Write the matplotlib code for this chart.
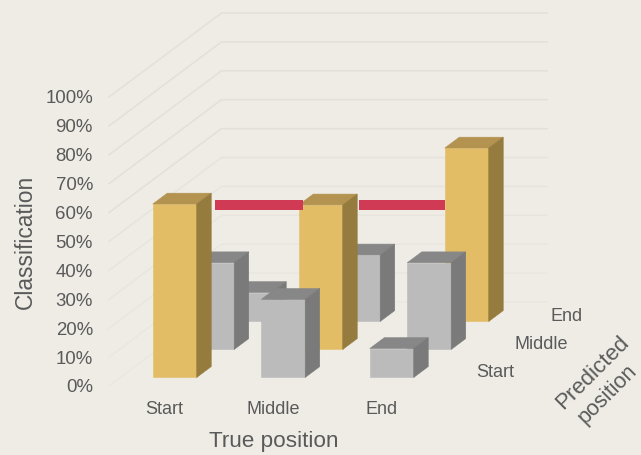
import matplotlib
matplotlib.use("Agg")
import matplotlib.pyplot as plt
from matplotlib.patches import Polygon

# ---------- data ----------
true_positions = ["Start", "Middle", "End"]
predicted_positions = ["Start", "Middle", "End"]
pct_ticks = [0, 10, 20, 30, 40, 50, 60, 70, 80, 90, 100]
pred_start = [60, 27, 10]
pred_middle = [30, 50, 30]
pred_end = [10, 23, 60]
red_level = 60
red_from = [0.8675, 2.2]
red_to = [1.679, 2.993]

# ---------- style / oblique projection ----------
BG = "#EEECE5"
TXT = "#5A5A5A"
GRID = "#E2E0D9"
GOLD = ("#E3BD66", "#B3934F", "#957C3E")
GRAY = ("#BBBBBB", "#878787", "#7A7A7A")
plt.rcParams["font.family"] = ["Liberation Sans", "DejaVu Sans"]
X0, Y0 = 109.0, 387.0
CX, RX, RY, ZS = 108.5, 37.5, 28.0, 2.89
BAR_W, BAR_D = 0.405, 0.387
FRONT_R = (1 - BAR_D) / 2


def proj(c, r, z=0.0):
    return (X0 + CX * c + RX * r, Y0 - RY * r - ZS * z)


fig = plt.figure(figsize=(6.41, 4.56), dpi=100, facecolor=BG)
ax = fig.add_axes([0, 0, 1, 1])
ax.set_xlim(0, 641)
ax.set_ylim(456, 0)
ax.axis("off")

# gridlines and y ticks
for t in pct_ticks:
    pts = [proj(0, 0, t), proj(0, 3, t), proj(3, 3, t)]
    ax.plot(*zip(*pts), color=GRID, lw=1.1, alpha=0.35 + 0.65 * t / 100 if t < 60 else 1, zorder=1)
    x, y = proj(0, 0, t)
    ax.text(x - 16, y + 1, f"{t}%", ha="right", va="center", fontsize=13.4, color=TXT)


def bar(c, r, v, cols):
    c0 = c + (1 - BAR_W) / 2
    r0 = r + FRONT_R
    c1, r1 = c0 + BAR_W, r0 + BAR_D
    front, top, side = cols
    ax.add_patch(Polygon([proj(c0, r0, 0), proj(c1, r0, 0), proj(c1, r0, v), proj(c0, r0, v)],
                         fc=front, ec=front, lw=0.4, zorder=3))
    ax.add_patch(Polygon([proj(c0, r0, v), proj(c1, r0, v), proj(c1, r1, v), proj(c0, r1, v)],
                         fc=top, ec=top, lw=0.4, zorder=3))
    ax.add_patch(Polygon([proj(c1, r0, 0), proj(c1, r1, 0), proj(c1, r1, v), proj(c1, r0, v)],
                         fc=side, ec=side, lw=0.4, zorder=3))


rows = [pred_start, pred_middle, pred_end]
for r in (2, 1, 0):
    for c in range(3):
        bar(c, r, rows[r][c], GOLD if r == c else GRAY)

# red connectors
for a, b in zip(red_from, red_to):
    xa, ya = proj(a, FRONT_R, red_level)
    xb, yb = proj(b, FRONT_R, red_level)
    ax.plot([xa, xb], [ya + 0.5, yb + 0.5], color="#D13A54", lw=7.2, solid_capstyle="butt", zorder=5)

# category labels
for i, s in enumerate(true_positions):
    x, y = proj(i + 0.5, 0)
    ax.text(x + 1, 410, s, ha="center", va="center", fontsize=13, color=TXT)
depth_x = [476, 514, 551]
for s, dx, i in zip(predicted_positions, depth_x, range(3)):
    ax.text(dx, proj(0, i)[1] - 14, s, ha="left", va="center", fontsize=13, color=TXT)

ax.text(25, 242, "Classification", rotation=90, ha="center", va="center", fontsize=16.4, color=TXT)
ax.text(273.5, 442, "True position", ha="center", va="center", fontsize=16.2, color=TXT)
ax.text(593, 373, "Predicted", rotation=45, ha="center", va="center", fontsize=16,
        color=TXT, rotation_mode="anchor")
ax.text(607, 394, "position", rotation=45, ha="center", va="center", fontsize=15.6,
        color=TXT, rotation_mode="anchor")

fig.savefig("out.png", dpi=100, facecolor=BG)
